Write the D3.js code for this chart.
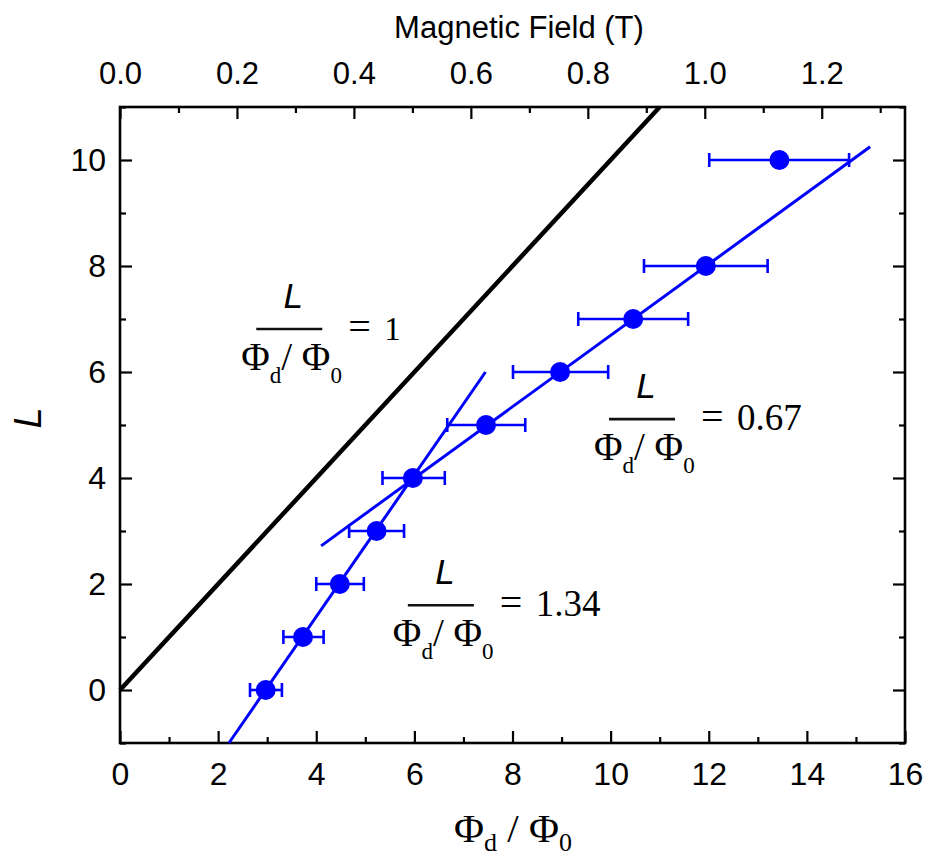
<!DOCTYPE html>
<html>
<head>
<meta charset="utf-8">
<script src="https://cdn.jsdelivr.net/npm/d3@7"></script>
<style>
body { margin: 0; background: #fff; }
svg { display: block; }
</style>
</head>
<body>
<svg id="chart" width="932" height="859"></svg>
<script>
// measured points: flux ratio vs L, with horizontal error bars
var fluxRatio = [2.97, 3.73, 4.48, 5.23, 5.97, 7.46, 8.97, 10.46, 11.94, 13.44];
var lValues   = [0, 1, 2, 3, 4, 5, 6, 7, 8, 10];
var errLow    = [2.65, 3.33, 4.00, 4.67, 5.35, 6.67, 8.01, 9.34, 10.68, 12.01];
var errHigh   = [3.30, 4.15, 4.97, 5.79, 6.62, 8.26, 9.95, 11.58, 13.20, 14.86];

// fitted lines (endpoints in data units)
var steepFit   = [[2.22, -1], [7.45, 6]];
var shallowFit = [[4.10, 2.72], [15.29, 10.25]];

var xTicks = [0, 2, 4, 6, 8, 10, 12, 14, 16];
var yTicks = [0, 2, 4, 6, 8, 10];
var fieldTicks = [0, 0.2, 0.4, 0.6, 0.8, 1.0, 1.2];
var fieldPerFlux = 0.0839;

var annoX = [3.45, 10.64, 6.54];
var annoY = [6.81, 5.11, 1.60];
var annoVal = ["1", "0.67", "1.34"];

var svg = d3.select("#chart");
var blue = "#0000ff";

var x = d3.scaleLinear().domain([0, 16]).range([120, 905]);
var y = d3.scaleLinear().domain([-1, 11]).range([743, 107]);
var xTop = d3.scaleLinear().domain([0, 16 * fieldPerFlux]).range([120, 905]);

function oddTicks(a, b, step) {
	var out = [];
	for (var v = a; v <= b + 1e-9; v += step) out.push(+v.toFixed(3));
	return out;
}

// minor ticks first
var minor = svg.append("g").attr("class", "minor");
minor.append("g").attr("transform", "translate(0,743)")
	.call(d3.axisBottom(x).tickValues(oddTicks(1, 15, 2)).tickSize(-6).tickFormat(""));
minor.append("g").attr("transform", "translate(120,0)")
	.call(d3.axisLeft(y).tickValues(oddTicks(-1, 11, 2)).tickSize(-6).tickFormat(""));
minor.append("g").attr("transform", "translate(905,0)")
	.call(d3.axisRight(y).tickValues(oddTicks(-1, 11, 2)).tickSize(-6).tickFormat(""));
minor.append("g").attr("transform", "translate(0,107)")
	.call(d3.axisTop(xTop).tickValues(oddTicks(0.1, 1.3, 0.2)).tickSize(-6).tickFormat(""));

var gx = svg.append("g").attr("transform", "translate(0,743)")
	.call(d3.axisBottom(x).tickValues(xTicks).tickSize(-12).tickPadding(19));
var gy = svg.append("g").attr("transform", "translate(120,0)")
	.call(d3.axisLeft(y).tickValues(yTicks).tickSize(-12).tickPadding(14));
svg.append("g").attr("transform", "translate(905,0)")
	.call(d3.axisRight(y).tickValues(yTicks).tickSize(-12).tickFormat(""));
var gt = svg.append("g").attr("transform", "translate(0,107)")
	.call(d3.axisTop(xTop).tickValues(fieldTicks).tickSize(-12).tickPadding(23).tickFormat(d3.format(".1f")));

svg.selectAll(".domain").remove();
svg.selectAll(".tick line").attr("stroke", "#000").attr("stroke-width", 2.2);
svg.selectAll(".tick text").attr("font-family", "Liberation Sans, Arial, sans-serif").attr("fill", "#000");
gx.selectAll("text").attr("font-size", 32);
gy.selectAll("text").attr("font-size", 32);
gt.selectAll("text").attr("font-size", 31);

// frame
svg.append("rect")
	.attr("x", x(0)).attr("y", y(11))
	.attr("width", x(16) - x(0)).attr("height", y(-1) - y(11))
	.attr("fill", "none").attr("stroke", "#000").attr("stroke-width", 2.6);

// L = flux ratio reference line
var lineEnd = Math.min(16, 11);
svg.append("line")
	.attr("x1", x(0)).attr("y1", y(0))
	.attr("x2", x(lineEnd)).attr("y2", y(lineEnd))
	.attr("stroke", "#000").attr("stroke-width", 4.5);

var line = d3.line().x(function(d){ return x(d[0]); }).y(function(d){ return y(d[1]); });
[steepFit, shallowFit].forEach(function(f) {
	svg.append("path").attr("d", line(f))
		.attr("fill", "none").attr("stroke", blue).attr("stroke-width", 3);
});

// error bars
var pts = fluxRatio.map(function(v, i) {
	return {x: v, y: lValues[i], lo: errLow[i], hi: errHigh[i]};
});
var eb = svg.append("g").attr("stroke", blue).attr("stroke-width", 2.6);
pts.forEach(function(p) {
	eb.append("line").attr("x1", x(p.lo)).attr("x2", x(p.hi)).attr("y1", y(p.y)).attr("y2", y(p.y));
	eb.append("line").attr("x1", x(p.lo)).attr("x2", x(p.lo)).attr("y1", y(p.y) - 7).attr("y2", y(p.y) + 7);
	eb.append("line").attr("x1", x(p.hi)).attr("x2", x(p.hi)).attr("y1", y(p.y) - 7).attr("y2", y(p.y) + 7);
});
svg.append("g").selectAll("circle").data(pts).enter().append("circle")
	.attr("cx", function(d){ return x(d.x); })
	.attr("cy", function(d){ return y(d.y); })
	.attr("r", 10).attr("fill", blue);

// flux ratio label  (Φd / Φ0)
function fluxLabel(sel, subSize, shift) {
	sel.append("tspan").text("\u03A6");
	sel.append("tspan").attr("font-size", subSize).attr("dy", shift).text("d");
	sel.append("tspan").attr("dy", -shift).text("/ \u03A6");
	sel.append("tspan").attr("font-size", subSize).attr("dy", shift).text("0");
}

var serif = "Liberation Serif, Times New Roman, serif";
var sans = "Liberation Sans, Arial, sans-serif";

var xl = svg.append("text").attr("x", 513).attr("y", 842)
	.attr("text-anchor", "middle").attr("font-family", serif).attr("font-size", 41);
xl.append("tspan").text("\u03A6");
xl.append("tspan").attr("font-size", 26).attr("dy", 9).text("d");
xl.append("tspan").attr("dy", -9).text(" / \u03A6");
xl.append("tspan").attr("font-size", 26).attr("dy", 9).text("0");

svg.append("text").attr("x", 519).attr("y", 38).attr("text-anchor", "middle")
	.attr("font-family", sans).attr("font-size", 31).text("Magnetic Field (T)");

svg.append("text").attr("transform", "translate(41,418) rotate(-90)")
	.attr("text-anchor", "middle").attr("font-family", sans)
	.attr("font-style", "italic").attr("font-size", 38).text("L");

// slope annotations
annoVal.forEach(function(v, i) {
	var cx = x(annoX[i]), by = y(annoY[i]);
	var g = svg.append("g");
	g.append("text").attr("x", cx + 4).attr("y", by - 21).attr("text-anchor", "middle")
		.attr("font-family", sans).attr("font-style", "italic").attr("font-size", 35).text("L");
	g.append("line").attr("x1", cx - 33).attr("x2", cx + 33).attr("y1", by).attr("y2", by)
		.attr("stroke", "#111").attr("stroke-width", 2.6);
	var den = g.append("text").attr("x", cx - 48).attr("y", by + 41)
		.attr("font-family", serif).attr("font-size", 39);
	fluxLabel(den, 23, 13);
	g.append("text").attr("x", cx + 59).attr("y", by + 11)
		.attr("font-family", serif).attr("font-size", 40).text("=");
	g.append("text").attr("x", cx + 95).attr("y", by + 11)
		.attr("font-family", serif).attr("font-size", i === 0 ? 33 : 37).text(v);
});
</script>
</body>
</html>
